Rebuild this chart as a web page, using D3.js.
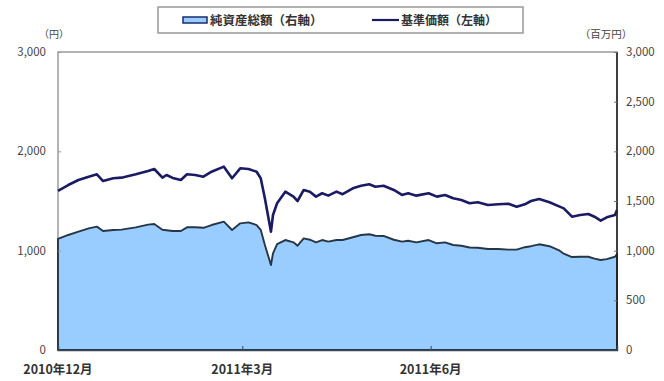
<!DOCTYPE html>
<html>
<head>
<meta charset="utf-8">
<script src="https://cdn.jsdelivr.net/npm/d3@7"></script>
<style>
  body { margin: 0; background: #fff; }
  text { font-family: "Noto Sans CJK JP", "Noto Sans", sans-serif; }
</style>
</head>
<body>
<div id="chart"></div>
<script>
// dates of the readings
var dates = [
  "2010-12-01", "2010-12-06", "2010-12-11", "2010-12-16", "2010-12-20", "2010-12-23", "2010-12-28",
  "2011-01-01", "2011-01-08", "2011-01-14", "2011-01-17", "2011-01-21", "2011-01-23", "2011-01-26", "2011-01-30",
  "2011-02-02", "2011-02-06", "2011-02-10", "2011-02-14", "2011-02-20", "2011-02-24", "2011-02-28",
  "2011-03-04", "2011-03-08", "2011-03-10", "2011-03-12", "2011-03-15", "2011-03-16", "2011-03-18",
  "2011-03-22", "2011-03-26", "2011-03-28", "2011-03-31",
  "2011-04-03", "2011-04-06", "2011-04-09", "2011-04-12", "2011-04-16", "2011-04-19", "2011-04-24", "2011-04-28",
  "2011-05-02", "2011-05-05", "2011-05-09", "2011-05-14", "2011-05-18", "2011-05-21", "2011-05-25", "2011-05-31",
  "2011-06-04", "2011-06-08", "2011-06-12", "2011-06-16", "2011-06-20", "2011-06-24", "2011-06-29",
  "2011-07-04", "2011-07-09", "2011-07-13", "2011-07-17", "2011-07-20", "2011-07-24", "2011-07-29",
  "2011-08-03", "2011-08-05", "2011-08-09", "2011-08-13", "2011-08-17", "2011-08-20", "2011-08-23",
  "2011-08-26", "2011-08-30", "2011-08-31"
];

// 基準価額 (円, left axis)
var basePrice = [
  1601, 1661, 1711, 1745, 1769, 1701, 1729,
  1735, 1769, 1802, 1822, 1735, 1762, 1732, 1711,
  1769, 1762, 1745, 1795, 1846, 1729, 1829,
  1822, 1795, 1729, 1530, 1191, 1359, 1477,
  1594, 1544, 1500, 1611,
  1594, 1544, 1578, 1554, 1594, 1568, 1628, 1654,
  1668, 1644, 1654, 1611, 1561, 1578, 1554, 1578,
  1544, 1561, 1527, 1510, 1477, 1487, 1460,
  1467, 1473, 1443, 1467, 1500, 1520, 1487,
  1443, 1426, 1342, 1359, 1369, 1342, 1302,
  1336, 1359, 1409
];

// 純資産総額 (百万円, right axis)
var netAssets = [
  1118, 1158, 1191, 1225, 1242, 1198, 1208,
  1212, 1235, 1262, 1268, 1210, 1205, 1198, 1198,
  1235, 1235, 1230, 1258, 1292, 1208, 1275,
  1285, 1258, 1210, 1060, 856, 973, 1065,
  1107, 1084, 1050, 1124,
  1110, 1084, 1107, 1091, 1107, 1107, 1135, 1158,
  1165, 1150, 1148, 1110, 1091, 1100, 1084, 1107,
  1074, 1084, 1057, 1050, 1032, 1030, 1017,
  1017, 1010, 1010, 1035, 1045, 1064, 1045,
  1000, 970, 936, 939, 939, 920, 906,
  915, 939, 966
];

var leftTicks = [0, 1000, 2000, 3000];
var rightTicks = [0, 500, 1000, 1500, 2000, 2500, 3000];
var monthTicks = ["2010-12-01", "2011-03-01", "2011-06-01"];
var legendLabels = ["純資産総額（右軸）", "基準価額（左軸）"];

var W = 664, H = 381;
var margin = { top: 52, right: 47, bottom: 31, left: 58 };
var parse = d3.timeParse("%Y-%m-%d");

var rows = dates.map(function(d, i) {
  return { date: parse(d), price: basePrice[i], assets: netAssets[i] };
});

var svg = d3.select("#chart").append("svg")
  .attr("width", W)
  .attr("height", H);

var x = d3.scaleTime()
  .domain([parse("2010-12-01"), parse("2011-08-31")])
  .range([margin.left, W - margin.right]);
var yL = d3.scaleLinear().domain([0, 3000]).range([H - margin.bottom, margin.top]);
var yR = d3.scaleLinear().domain([0, 3000]).range([H - margin.bottom, margin.top]);

// plot frame
svg.append("rect")
  .attr("x", margin.left)
  .attr("y", margin.top)
  .attr("width", W - margin.left - margin.right)
  .attr("height", H - margin.top - margin.bottom)
  .attr("fill", "#fff")
  .attr("stroke", "#9a9a9a")
  .attr("stroke-width", 1.5);

// net assets area
var area = d3.area()
  .x(function(d) { return x(d.date); })
  .y0(yR(0))
  .y1(function(d) { return yR(d.assets); });
svg.append("path")
  .datum(rows)
  .attr("d", area)
  .attr("fill", "#99ccff")
  .attr("stroke", "#263646")
  .attr("stroke-width", 1.9)
  .attr("stroke-linejoin", "round");

// base price line
var line = d3.line()
  .x(function(d) { return x(d.date); })
  .y(function(d) { return yL(d.price); });
svg.append("path")
  .datum(rows)
  .attr("d", line)
  .attr("fill", "none")
  .attr("stroke", "#1b1b63")
  .attr("stroke-width", 2.6)
  .attr("stroke-linejoin", "round");

// axes
var fmt = d3.format(",");
var axL = svg.append("g")
  .attr("transform", "translate(" + margin.left + ",0)")
  .call(d3.axisRight(yL).tickValues(leftTicks).tickSize(3).tickFormat(""));
axL.select(".domain").remove();
axL.selectAll("line").attr("stroke", "#999");
svg.append("g").selectAll("text")
  .data(leftTicks).enter().append("text")
  .attr("x", 46)
  .attr("y", function(d) { return yL(d) + 4; })
  .attr("text-anchor", "end")
  .attr("font-size", 11.5)
  .attr("fill", "#444")
  .text(fmt);

var axR = svg.append("g")
  .attr("transform", "translate(" + (W - margin.right) + ",0)")
  .call(d3.axisLeft(yR).tickValues(rightTicks).tickSize(3).tickFormat(""));
axR.select(".domain")
  .attr("d", "M0," + margin.top + "V" + (H - margin.bottom))
  .attr("stroke", "#222")
  .attr("stroke-width", 1.6);
axR.selectAll("line").attr("stroke", "#777");
svg.append("g").selectAll("text")
  .data(rightTicks).enter().append("text")
  .attr("x", W - margin.right + 9)
  .attr("y", function(d) { return yR(d) + 4; })
  .attr("text-anchor", "start")
  .attr("font-size", 11.5)
  .attr("fill", "#444")
  .text(fmt);

var axX = svg.append("g")
  .attr("transform", "translate(0," + (H - margin.bottom) + ")")
  .call(d3.axisTop(x).tickValues(monthTicks.map(parse)).tickSize(4).tickFormat(""));
axX.select(".domain").attr("stroke", "#3a4a5a").attr("stroke-width", 1.5);
axX.selectAll("line").attr("stroke", "#3a4a5a");
svg.append("g").selectAll("text")
  .data(monthTicks).enter().append("text")
  .attr("x", function(d) { return x(parse(d)); })
  .attr("y", H - 7)
  .attr("text-anchor", "middle")
  .attr("font-size", 12.5)
  .attr("font-weight", "bold")
  .attr("fill", "#333")
  .text(function(d) {
    var t = parse(d);
    return t.getFullYear() + "年" + (t.getMonth() + 1) + "月";
  });

// unit labels
svg.append("text")
  .attr("x", 54).attr("y", 38)
  .attr("text-anchor", "middle")
  .attr("font-size", 10).attr("fill", "#444")
  .text("（円）");
svg.append("text")
  .attr("x", 606).attr("y", 38)
  .attr("text-anchor", "middle")
  .attr("font-size", 10.5).attr("fill", "#444")
  .text("（百万円）");

// legend
var lg = svg.append("g");
lg.append("rect")
  .attr("x", 158).attr("y", 7)
  .attr("width", 365).attr("height", 26)
  .attr("fill", "#fff")
  .attr("stroke", "#999")
  .attr("stroke-width", 1.5);
lg.append("rect")
  .attr("x", 183).attr("y", 17)
  .attr("width", 24).attr("height", 6)
  .attr("fill", "#99ccff")
  .attr("stroke", "#1b2b6b")
  .attr("stroke-width", 1.5);
lg.append("text")
  .attr("x", 210).attr("y", 25)
  .attr("font-size", 12.5).attr("font-weight", "bold")
  .attr("fill", "#333")
  .text(legendLabels[0]);
lg.append("line")
  .attr("x1", 372).attr("x2", 399)
  .attr("y1", 20).attr("y2", 20)
  .attr("stroke", "#1b1b63")
  .attr("stroke-width", 2.2);
lg.append("text")
  .attr("x", 401).attr("y", 25)
  .attr("font-size", 12).attr("font-weight", "bold")
  .attr("fill", "#333")
  .text(legendLabels[1]);
</script>
</body>
</html>
